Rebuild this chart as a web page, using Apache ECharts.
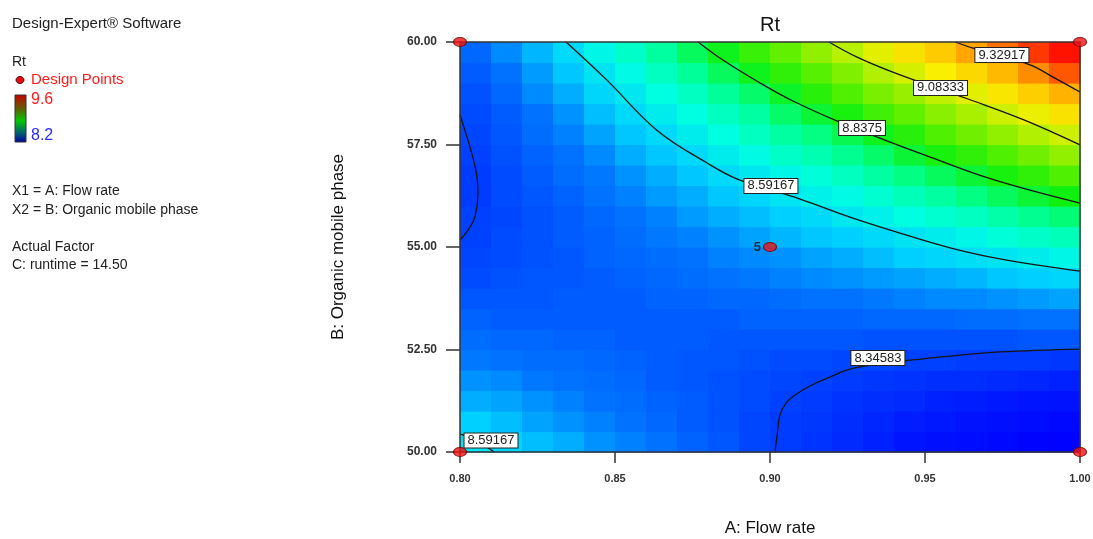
<!DOCTYPE html>
<html>
<head>
<meta charset="utf-8">
<script src="https://cdn.jsdelivr.net/npm/echarts@6/dist/echarts.min.js"></script>
</head>
<body style="margin:0">
<div id="main" style="width:1093px;height:539px;"></div>
<script type="text/javascript">
// cell centres of the response grid (A: Flow rate / B: Organic mobile phase)
var flowRate = [0.805, 0.815, 0.825, 0.835, 0.845, 0.855, 0.865, 0.875, 0.885, 0.895,
                0.905, 0.915, 0.925, 0.935, 0.945, 0.955, 0.965, 0.975, 0.985, 0.995];
var organicPhase = [50.25, 50.75, 51.25, 51.75, 52.25, 52.75, 53.25, 53.75, 54.25, 54.75,
                    55.25, 55.75, 56.25, 56.75, 57.25, 57.75, 58.25, 58.75, 59.25, 59.75];

// Rt, one row per organicPhase value (bottom row first)
var rtGrid = [
  [8.59,8.56,8.53,8.51,8.48,8.46,8.44,8.41,8.39,8.36,8.34,8.32,8.30,8.28,8.25,8.23,8.21,8.19,8.17,8.16],
  [8.55,8.53,8.50,8.48,8.46,8.44,8.42,8.40,8.38,8.36,8.34,8.33,8.31,8.29,8.27,8.26,8.24,8.23,8.21,8.19],
  [8.51,8.50,8.48,8.46,8.44,8.43,8.41,8.40,8.38,8.37,8.35,8.34,8.32,8.31,8.30,8.28,8.27,8.26,8.25,8.24],
  [8.48,8.47,8.45,8.44,8.43,8.42,8.40,8.39,8.38,8.37,8.36,8.35,8.34,8.33,8.32,8.31,8.31,8.30,8.29,8.28],
  [8.45,8.44,8.43,8.43,8.42,8.41,8.40,8.39,8.39,8.38,8.37,8.37,8.36,8.36,8.35,8.35,8.34,8.34,8.34,8.33],
  [8.43,8.42,8.42,8.41,8.41,8.40,8.40,8.40,8.39,8.39,8.39,8.39,8.39,8.38,8.38,8.38,8.38,8.38,8.39,8.39],
  [8.41,8.40,8.40,8.40,8.40,8.40,8.40,8.40,8.40,8.41,8.41,8.41,8.41,8.42,8.42,8.42,8.43,8.43,8.44,8.44],
  [8.39,8.39,8.39,8.40,8.40,8.40,8.41,8.41,8.42,8.42,8.43,8.44,8.44,8.45,8.46,8.47,8.47,8.48,8.49,8.50],
  [8.37,8.38,8.39,8.39,8.40,8.41,8.42,8.43,8.44,8.45,8.46,8.47,8.48,8.49,8.50,8.51,8.52,8.54,8.55,8.56],
  [8.36,8.37,8.38,8.39,8.41,8.42,8.43,8.44,8.46,8.47,8.48,8.50,8.51,8.53,8.55,8.56,8.58,8.59,8.61,8.63],
  [8.35,8.37,8.38,8.40,8.41,8.43,8.45,8.46,8.48,8.50,8.52,8.54,8.55,8.57,8.59,8.61,8.63,8.66,8.68,8.70],
  [8.35,8.36,8.38,8.40,8.42,8.44,8.46,8.49,8.51,8.53,8.55,8.57,8.60,8.62,8.65,8.67,8.69,8.72,8.75,8.77],
  [8.34,8.37,8.39,8.41,8.44,8.46,8.49,8.51,8.54,8.56,8.59,8.62,8.64,8.67,8.70,8.73,8.76,8.79,8.82,8.85],
  [8.34,8.37,8.40,8.43,8.45,8.48,8.51,8.54,8.57,8.60,8.63,8.66,8.69,8.73,8.76,8.79,8.82,8.86,8.89,8.93],
  [8.35,8.38,8.41,8.44,8.47,8.51,8.54,8.57,8.61,8.64,8.68,8.71,8.75,8.78,8.82,8.86,8.89,8.93,8.97,9.01],
  [8.36,8.39,8.43,8.46,8.50,8.54,8.57,8.61,8.65,8.69,8.73,8.76,8.80,8.84,8.88,8.93,8.97,9.01,9.05,9.09],
  [8.37,8.40,8.44,8.48,8.53,8.57,8.61,8.65,8.69,8.73,8.78,8.82,8.86,8.91,8.95,9.00,9.04,9.09,9.13,9.18],
  [8.38,8.42,8.47,8.51,8.56,8.60,8.65,8.69,8.74,8.78,8.83,8.88,8.93,8.98,9.02,9.07,9.12,9.17,9.22,9.27],
  [8.40,8.44,8.49,8.54,8.59,8.64,8.69,8.74,8.79,8.84,8.89,8.94,8.99,9.05,9.10,9.15,9.20,9.26,9.33,9.40],
  [8.42,8.47,8.52,8.57,8.63,8.68,8.73,8.79,8.84,8.90,8.95,9.01,9.06,9.12,9.18,9.23,9.29,9.37,9.44,9.51]
];

// contour lines [flow rate, organic phase]
var contour834Left = [[0.8000,58.22],[0.8032,57.44],[0.8053,56.80],[0.8058,56.32],[0.8048,55.73],[0.8026,55.41],[0.8000,55.17]];
var contour834Right = [[0.9016,50.00],[0.9023,50.41],[0.9032,50.90],[0.9052,51.20],[0.9081,51.39],[0.9129,51.61],[0.9194,51.83],
                       [0.9258,52.02],[0.9355,52.15],[0.9452,52.24],[0.9581,52.34],[0.9742,52.44],[1.0000,52.51]];
var contour859Corner = [[0.8000,50.44],[0.8048,50.29],[0.8087,50.12],[0.8110,50.00]];
var contour859 = [[0.8342,60.00],[0.8474,59.07],[0.8635,57.85],[0.8797,57.05],[0.8903,56.63],[0.9097,56.17],[0.9258,55.73],
                  [0.9419,55.34],[0.9581,54.98],[0.9742,54.71],[1.0000,54.41]];
var contour884 = [[0.8768,60.00],[0.8848,59.56],[0.8968,59.00],[0.9074,58.56],[0.9223,58.05],[0.9377,57.59],[0.9500,57.24],
                  [0.9713,56.66],[1.0000,56.07]];
var contour908 = [[0.9190,60.00],[0.9281,59.63],[0.9394,59.27],[0.9548,58.85],[0.9639,58.61],[0.9819,58.10],[1.0000,57.49]];
var contour933 = [[0.9597,60.00],[0.9655,59.85],[0.9742,59.66],[0.9839,59.44],[0.9919,59.12],[1.0000,58.78]];

// contour level labels
var labelText = ['9.32917', '9.08333', '8.8375', '8.59167', '8.34583', '8.59167'];
var labelFlow = [0.9748, 0.9550, 0.9297, 0.9003, 0.9348, 0.8100];
var labelOrganic = [59.68, 58.88, 57.90, 56.49, 52.29, 50.28];

// design points
var dpFlow = [0.80, 1.00, 0.80, 1.00, 0.90];
var dpOrganic = [60, 60, 50, 50, 55];
var dpRuns = [1, 1, 1, 1, 5];

var FONT = 'Arial, "Liberation Sans", sans-serif';
var CELL_W = flowRate[1] - flowRate[0];
var CELL_H = organicPhase[1] - organicPhase[0];

var heatData = [];
for (var j = 0; j < organicPhase.length; j++) {
  for (var i = 0; i < flowRate.length; i++) {
    heatData.push([flowRate[i], organicPhase[j], rtGrid[j][i]]);
  }
}

var myChart = echarts.init(document.getElementById('main'));

var series = [{
  type: 'custom',
  data: heatData,
  silent: true,
  z: 1,
  renderItem: function (params, api) {
    var a = api.coord([api.value(0) - CELL_W / 2, api.value(1) + CELL_H / 2]);
    var b = api.coord([api.value(0) + CELL_W / 2, api.value(1) - CELL_H / 2]);
    return {
      type: 'rect',
      shape: { x: a[0], y: a[1], width: b[0] - a[0] + 0.6, height: b[1] - a[1] + 0.6 },
      style: { fill: api.visual('color') }
    };
  }
}];

[contour834Left, contour834Right, contour859Corner, contour859, contour884, contour908, contour933].forEach(function (pts) {
  series.push({
    type: 'line',
    data: pts,
    smooth: 0.4,
    symbol: 'none',
    silent: true,
    z: 3,
    lineStyle: { color: '#151515', width: 1.3 }
  });
});

series.push({
  type: 'scatter',
  data: labelText.map(function (t, k) { return { name: t, value: [labelFlow[k], labelOrganic[k]] }; }),
  symbolSize: 1,
  itemStyle: { color: '#ffffff', opacity: 1 },
  clip: false,
  silent: true,
  z: 4,
  label: {
    show: true,
    position: 'inside',
    formatter: '{b}',
    color: '#222',
    fontFamily: FONT,
    fontSize: 13,
    backgroundColor: '#ffffff',
    borderColor: '#222',
    borderWidth: 1,
    padding: [1, 3, 0, 3]
  }
});

series.push({
  type: 'scatter',
  data: dpFlow.map(function (x, k) { return [x, dpOrganic[k]]; }),
  symbol: 'circle',
  symbolSize: [13, 9],
  clip: false,
  silent: true,
  z: 6,
  itemStyle: { color: '#ee1111', borderColor: '#6a0000', borderWidth: 1 },
  label: {
    show: true,
    position: 'left',
    distance: 2,
    formatter: function (p) { return dpRuns[p.dataIndex] > 1 ? String(dpRuns[p.dataIndex]) : ''; },
    color: '#111',
    fontFamily: FONT,
    fontSize: 13,
    fontWeight: 'bold'
  }
});

var axisLine = { show: true, lineStyle: { color: '#333', width: 1.5 } };

var option = {
  animation: false,
  backgroundColor: '#fff',
  grid: { left: 460, top: 42, width: 620, height: 410, containLabel: false, outerBoundsMode: 'none' },
  visualMap: {
    show: false,
    seriesIndex: 0,
    dimension: 2,
    min: 8.15,
    max: 9.55,
    inRange: {
      color: ['#0000ff', '#0014ff', '#0040ff', '#0078ff', '#00d0ff', '#00ffe0', '#00ff90', '#10f010',
              '#60f000', '#b0f000', '#f8f000', '#ffc000', '#ff8000', '#ff3000', '#ff0000']
    }
  },
  xAxis: [{
    type: 'value', min: 0.8, max: 1.0, interval: 0.05, position: 'bottom', z: 5,
    axisLine: axisLine,
    axisTick: { show: true, length: 11, lineStyle: { color: '#333', width: 1.5 } },
    axisLabel: { margin: 21, fontSize: 11, fontWeight: 'bold', color: '#333', fontFamily: FONT,
      formatter: function (v) { return v.toFixed(2); } },
    splitLine: { show: false },
    name: 'A: Flow rate', nameLocation: 'middle', nameGap: 68,
    nameTextStyle: { fontSize: 17, color: '#111', fontFamily: FONT }
  }, {
    type: 'value', min: 0.8, max: 1.0, position: 'top', z: 5,
    axisLine: axisLine, axisTick: { show: false }, axisLabel: { show: false }, splitLine: { show: false }
  }],
  yAxis: [{
    type: 'value', min: 50, max: 60, interval: 2.5, position: 'left', z: 5,
    axisLine: axisLine,
    axisTick: { show: true, length: 14, lineStyle: { color: '#333', width: 1.5 } },
    axisLabel: { margin: 23, fontSize: 12, fontWeight: 'bold', color: '#333', fontFamily: FONT,
      formatter: function (v) { return v.toFixed(2); } },
    splitLine: { show: false },
    name: 'B: Organic mobile phase', nameLocation: 'middle', nameGap: 113, nameRotate: 90,
    nameTextStyle: { fontSize: 17, color: '#111', fontFamily: FONT }
  }, {
    type: 'value', min: 50, max: 60, position: 'right', z: 5,
    axisLine: axisLine, axisTick: { show: false }, axisLabel: { show: false }, splitLine: { show: false }
  }],
  graphic: [
    { type: 'text', x: 770, y: 25, style: { text: 'Rt', font: '20px ' + FONT, fill: '#111', align: 'center', verticalAlign: 'middle' } },
    { type: 'text', x: 12, y: 24, style: { text: 'Design-Expert® Software', font: '15px ' + FONT, fill: '#222', verticalAlign: 'middle' } },
    { type: 'text', x: 12, y: 62, style: { text: 'Rt', font: '14px ' + FONT, fill: '#222', verticalAlign: 'middle' } },
    { type: 'ellipse', shape: { cx: 20, cy: 80, rx: 4, ry: 3.5 }, style: { fill: '#e01010', stroke: '#500', lineWidth: 1 } },
    { type: 'text', x: 31, y: 80, style: { text: 'Design Points', font: '15px ' + FONT, fill: '#ff1a1a', verticalAlign: 'middle' } },
    { type: 'rect', shape: { x: 15, y: 95, width: 11, height: 47 },
      style: {
        stroke: '#333', lineWidth: 1,
        fill: new echarts.graphic.LinearGradient(0, 0, 0, 1, [
          { offset: 0, color: '#c80000' },
          { offset: 0.3, color: '#606000' },
          { offset: 0.55, color: '#00c800' },
          { offset: 0.8, color: '#006070' },
          { offset: 1, color: '#0000a0' }
        ])
      } },
    { type: 'text', x: 31, y: 100, style: { text: '9.6', font: '16px ' + FONT, fill: '#ff1a1a', verticalAlign: 'middle' } },
    { type: 'text', x: 31, y: 136, style: { text: '8.2', font: '16px ' + FONT, fill: '#2a2aff', verticalAlign: 'middle' } },
    { type: 'text', x: 12, y: 191, style: { text: 'X1 = A: Flow rate', font: '14px ' + FONT, fill: '#222', verticalAlign: 'middle' } },
    { type: 'text', x: 12, y: 210, style: { text: 'X2 = B: Organic mobile phase', font: '14px ' + FONT, fill: '#222', verticalAlign: 'middle' } },
    { type: 'text', x: 12, y: 247, style: { text: 'Actual Factor', font: '14px ' + FONT, fill: '#222', verticalAlign: 'middle' } },
    { type: 'text', x: 12, y: 265, style: { text: 'C: runtime = 14.50', font: '14px ' + FONT, fill: '#222', verticalAlign: 'middle' } }
  ],
  series: series
};

myChart.setOption(option);
</script>
</body>
</html>
